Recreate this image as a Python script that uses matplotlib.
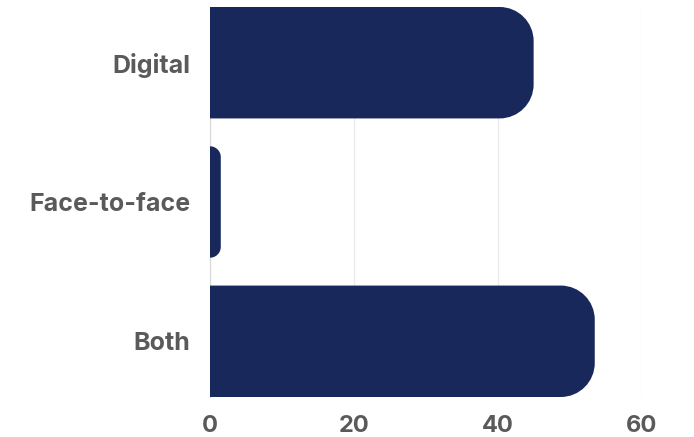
import matplotlib
matplotlib.use("Agg")
from matplotlib import pyplot as plt
from matplotlib.path import Path
from matplotlib.patches import PathPatch
from matplotlib.transforms import IdentityTransform

categories = ["Digital", "Face-to-face", "Both"]
values = [45.0, 1.5, 53.5]
xticks = [0, 20, 40, 60]

BAR_COLOR = "#18285a"
TEXT_COLOR = "#5a5a5a"
RADIUS = 34  # corner radius in pixels

plt.rcParams["font.family"] = ["Inter", "DejaVu Sans"]

fig = plt.figure(figsize=(6.94, 4.37), dpi=100)
ax = fig.add_axes([210 / 694, 40 / 437, 431.5 / 694, 390 / 437])

ax.set_xlim(0, 60)
ax.set_ylim(2.4, -0.4)
ax.set_yticks(range(len(categories)))
ax.set_yticklabels(categories)
ax.set_xticks(xticks)

ax.grid(axis="x", color="#ebebeb", lw=1)
ax.set_axisbelow(True)
for side in ["top", "right", "bottom"]:
    ax.spines[side].set_visible(False)
ax.spines["left"].set_color("#d9d9d9")
ax.tick_params(length=0, labelcolor=TEXT_COLOR)
ax.tick_params(axis="y", pad=14, labelsize=18)
ax.tick_params(axis="x", pad=13, labelsize=17)
for lab in ax.get_xticklabels() + ax.get_yticklabels():
    lab.set_fontweight("bold")

# bars with rounded right-hand corners, built in pixel space
k = 0.5523
bars = ax.barh(range(len(categories)), values, height=0.8, color="none")
for rect in bars:
    (x0, y0), (x1, y1) = ax.transData.transform(
        [(rect.get_x(), rect.get_y()), (rect.get_x() + rect.get_width(), rect.get_y() + rect.get_height())]
    )
    y0, y1 = min(y0, y1), max(y0, y1)
    r = min(RADIUS, x1 - x0, (y1 - y0) / 2)
    verts = [
        (x0, y0), (x1 - r, y0),
        (x1 - r + k * r, y0), (x1, y0 + r - k * r), (x1, y0 + r),
        (x1, y1 - r),
        (x1, y1 - r + k * r), (x1 - r + k * r, y1), (x1 - r, y1),
        (x0, y1), (x0, y0),
    ]
    codes = [Path.MOVETO, Path.LINETO,
             Path.CURVE4, Path.CURVE4, Path.CURVE4,
             Path.LINETO,
             Path.CURVE4, Path.CURVE4, Path.CURVE4,
             Path.LINETO, Path.CLOSEPOLY]
    fig.add_artist(PathPatch(Path(verts, codes), transform=IdentityTransform(),
                             facecolor=BAR_COLOR, edgecolor="none", zorder=3))

fig.savefig("out.png", dpi=100)
